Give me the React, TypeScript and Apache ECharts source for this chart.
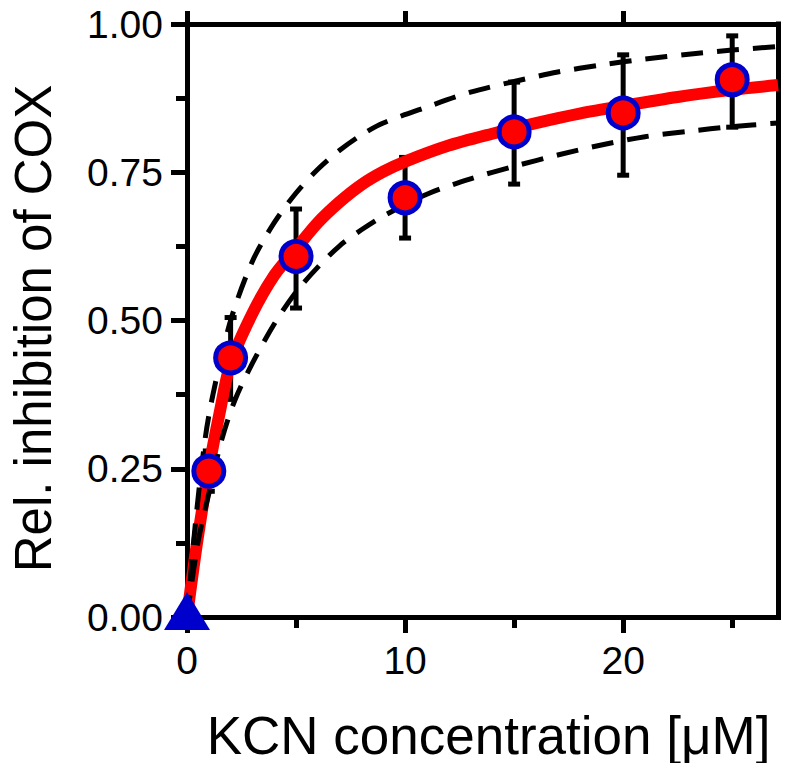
import React, { useEffect, useRef } from "react";
import * as echarts from "echarts";

const fitCurve: [number, number][] = [
  [0, 0], [0.14, 0.04], [0.46, 0.125], [1, 0.25], [1.5, 0.345], [2, 0.428], [3, 0.512],
  [4, 0.576], [5, 0.621], [6, 0.665], [7, 0.7], [8, 0.729], [9, 0.751], [10, 0.768],
  [12, 0.795], [14, 0.815], [16, 0.833], [18, 0.849], [20, 0.862], [22.5, 0.877],
  [25, 0.889], [27.1, 0.897],
];
const upperBand: [number, number][] = [
  [0, 0], [0.37, 0.152], [0.83, 0.3], [1.2, 0.377], [2, 0.5], [3, 0.6], [4, 0.665],
  [5, 0.715], [6, 0.755], [7, 0.787], [8, 0.813], [9, 0.833], [11, 0.86], [13, 0.885],
  [15, 0.903], [17, 0.919], [19, 0.931], [21, 0.941], [23, 0.949], [25, 0.956], [27.1, 0.962],
];
const lowerBand: [number, number][] = [
  [0, 0], [0.5, 0.125], [1, 0.208], [1.6, 0.3], [2.2, 0.366], [3, 0.428], [4, 0.494],
  [5, 0.548], [6, 0.59], [7, 0.626], [8, 0.653], [9, 0.676], [11, 0.713], [13, 0.739],
  [15, 0.76], [17, 0.779], [19, 0.796], [21, 0.81], [23, 0.819], [25, 0.827], [27.1, 0.833],
];
const concentrations = [1, 2, 5, 10, 15, 20, 25];
const inhibition = [0.246, 0.437, 0.608, 0.707, 0.818, 0.85, 0.906];
const errLow = [0.212, 0.367, 0.521, 0.639, 0.73, 0.745, 0.826];
const errHigh = [0.28, 0.505, 0.688, 0.775, 0.902, 0.948, 0.98];
const controlPoint: [number, number][] = [[0, 0]];
const xMajorTicks = [0, 10, 20];
const xMinorTicks = [5, 15, 25];
const rightTicks = [0, 0.25, 0.5, 0.75];

const FONT = "'Liberation Sans', Arial, sans-serif";
const BLACK = "#000000";
const X_MAX = 27.1;

export default function App() {
  const ref = useRef<HTMLDivElement>(null);
  useEffect(() => {
    if (!ref.current) return;
    const chart = echarts.init(ref.current, undefined, { renderer: "svg" });
    const axisLine = { show: true, onZero: false, lineStyle: { color: BLACK, width: 5, cap: "square" } };
    const option: any = {
      animation: false,
      backgroundColor: "#ffffff",
      grid: { left: 187, right: 11, top: 24, bottom: 154, containLabel: false },
      xAxis: [
        {
          type: "value", min: 0, max: X_MAX, interval: 10, position: "bottom",
          name: "KCN concentration [μM]", nameLocation: "middle", nameGap: 92,
          nameTextStyle: { fontFamily: FONT, fontSize: 53, color: BLACK, padding: [0, 0, 0, 12] },
          axisLine,
          axisTick: { show: true, inside: false, length: 16, customValues: xMajorTicks,
            lineStyle: { color: BLACK, width: 5 } },
          axisLabel: { show: true, margin: 24, fontFamily: FONT, fontSize: 39, color: BLACK,
            customValues: xMajorTicks, showMaxLabel: true, showMinLabel: true },
          splitLine: { show: false },
        },
        {
          type: "value", min: 0, max: X_MAX, interval: 10, position: "top",
          axisLine,
          axisTick: { show: true, inside: false, length: 13, customValues: xMajorTicks,
            lineStyle: { color: BLACK, width: 5 } },
          axisLabel: { show: false },
          splitLine: { show: false },
        },
        {
          type: "value", min: 0, max: X_MAX, interval: 5, position: "bottom", offset: 0,
          axisLine: { show: false },
          axisTick: { show: true, inside: false, length: 11, customValues: xMinorTicks,
            lineStyle: { color: BLACK, width: 5 } },
          axisLabel: { show: false },
          splitLine: { show: false },
        },
      ],
      yAxis: [
        {
          type: "value", min: 0, max: 1, interval: 0.25, position: "left",
          name: "Rel. inhibition of COX", nameLocation: "middle", nameGap: 128, nameRotate: 90,
          nameTextStyle: { fontFamily: FONT, fontSize: 51, color: BLACK, padding: [0, 16, 0, 0] },
          axisLine,
          axisTick: { show: true, inside: false, length: 16, lineStyle: { color: BLACK, width: 5 } },
          minorTick: { show: true, splitNumber: 2, length: 11, lineStyle: { color: BLACK, width: 5 } },
          axisLabel: { show: true, margin: 24, fontFamily: FONT, fontSize: 39, color: BLACK,
            formatter: (v: number) => v.toFixed(2) },
          splitLine: { show: false },
        },
        {
          type: "value", min: 0, max: 1, interval: 0.25, position: "right",
          axisLine,
          axisTick: { show: true, inside: false, length: 14, customValues: rightTicks,
            lineStyle: { color: BLACK, width: 5 } },
          axisLabel: { show: false },
          splitLine: { show: false },
        },
      ],
      series: [
        {
          type: "custom", name: "error", z: 1, clip: false,
          data: concentrations.map((c, i) => [c, errLow[i], errHigh[i]]),
          renderItem: (params: any, api: any) => {
            const x = api.value(0);
            const lo = api.coord([x, api.value(1)]);
            const hi = api.coord([x, api.value(2)]);
            const w = 6;
            const style = { stroke: BLACK, lineWidth: 5 };
            return {
              type: "group",
              children: [
                { type: "line", shape: { x1: lo[0], y1: lo[1], x2: hi[0], y2: hi[1] }, style },
                { type: "line", shape: { x1: lo[0] - w, y1: lo[1], x2: lo[0] + w, y2: lo[1] }, style },
                { type: "line", shape: { x1: hi[0] - w, y1: hi[1], x2: hi[0] + w, y2: hi[1] }, style },
              ],
            };
          },
        },
        {
          type: "line", name: "fit", z: 2, data: fitCurve, smooth: 0.3, symbol: "none",
          lineStyle: { color: "#ff0000", width: 12 },
        },
        {
          type: "line", name: "upper", z: 3, data: upperBand, smooth: 0.3, symbol: "none",
          lineStyle: { color: BLACK, width: 5, type: [22, 14], cap: "butt" },
        },
        {
          type: "line", name: "lower", z: 3, data: lowerBand, smooth: 0.3, symbol: "none",
          lineStyle: { color: BLACK, width: 5, type: [22, 14], cap: "butt" },
        },
        {
          type: "scatter", name: "data", z: 4, clip: false,
          data: concentrations.map((c, i) => [c, inhibition[i]]),
          symbol: "circle", symbolSize: 30,
          itemStyle: { color: "#ff0000", borderColor: "#0000cc", borderWidth: 5, opacity: 1 },
        },
        {
          type: "scatter", name: "control", z: 5, clip: false, data: controlPoint,
          symbol: "triangle", symbolSize: [46, 38], symbolOffset: [0, -6],
          itemStyle: { color: "#0000cc", opacity: 1 },
        },
      ],
    };
    chart.setOption(option);
    return () => chart.dispose();
  }, []);
  return <div ref={ref} style={{ width: 789, height: 771, margin: -8 }} />;
}
